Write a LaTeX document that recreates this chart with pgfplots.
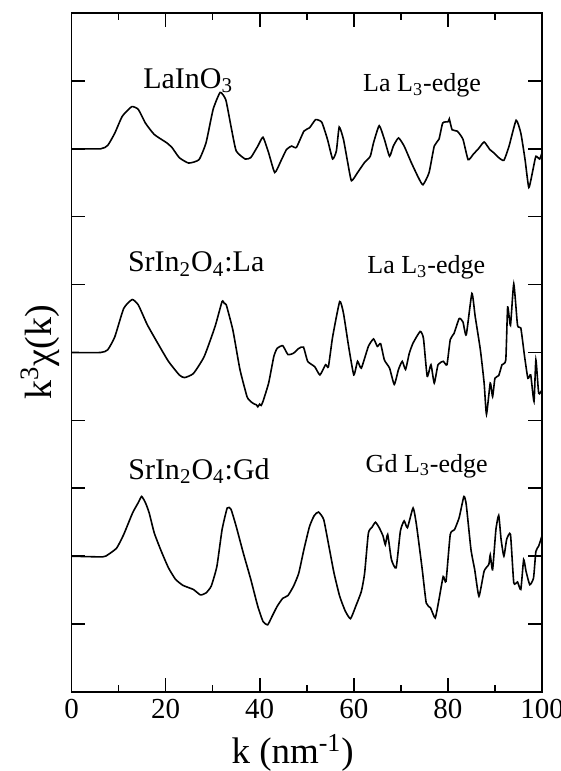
\documentclass[border=0pt]{standalone}
\usepackage{fontspec}
\setmainfont{Liberation Serif}
\usepackage{pgfplots}
\usepackage{pgfplotstable}
\pgfplotsset{compat=1.18}

% offsets from each curve's zero line, in tick units
\pgfplotstableread{
k d
0 0
6.2 0
7.7 0.05
9.2 0.23
10.8 0.48
12.8 0.62
14.2 0.58
15.7 0.38
17.6 0.21
20.2 0.09
21.4 0.015
22.9 -0.13
24.9 -0.21
27.1 -0.16
28.6 0.09
30.1 0.58
31.6 0.83
32.8 0.72
33.9 0.33
35.0 -0.03
36.9 -0.15
38.1 -0.13
39.6 0.04
40.7 0.17
41.9 -0.06
43.2 -0.35
44.5 -0.18
45.7 -0.01
46.8 0.04
47.8 0.02
49.4 0.26
50.6 0.31
51.9 0.43
53.2 0.39
54.4 0.14
55.5 -0.15
56.3 -0.03
56.9 0.32
57.8 0.14
58.7 -0.20
59.5 -0.47
60.8 -0.35
62.3 -0.20
63.5 -0.11
64.2 0.09
65.4 0.34
66.5 0.14
67.6 -0.11
68.4 0.04
69.5 0.16
70.7 0.04
72.2 -0.20
73.7 -0.42
74.7 -0.53
76.0 -0.35
77.1 0.04
78.1 0.14
78.9 0.38
80.1 0.40
80.3 0.44
80.9 0.28
82.0 0.26
83.2 0.14
84.3 -0.16
85.4 -0.08
86.6 0.01
87.7 0.10
88.9 -0.01
89.6 -0.05
90.8 -0.13
91.9 -0.17
93.0 0.04
94.5 0.42
95.5 0.23
96.4 -0.16
97.2 -0.57
98.1 -0.30
98.7 -0.11
99.5 -0.15
100 -0.06
}\lainoTop

\pgfplotstableread{
k d
0 0
6.2 0
7.7 0.04
9.2 0.23
11.1 0.65
12.9 0.78
14.2 0.70
16.1 0.41
18.3 0.14
20.6 -0.13
22.9 -0.33
24.0 -0.37
25.9 -0.31
28.2 -0.06
30.5 0.38
32.0 0.75
32.5 0.72
32.9 0.70
34.3 0.33
35.8 -0.25
37.3 -0.65
37.8 -0.70
38.4 -0.74
38.9 -0.76
39.3 -0.77
39.6 -0.80
40.0 -0.76
40.3 -0.78
40.7 -0.72
41.9 -0.45
43.0 -0.06
43.7 0.06
44.9 0.10
46.0 -0.03
47.2 -0.01
48.3 0.06
49.3 0.08
50.2 -0.13
51.7 -0.21
52.8 -0.33
54.0 -0.18
54.6 -0.21
55.5 0.23
57.0 0.75
57.8 0.58
58.9 0.09
60.0 -0.33
60.8 -0.13
61.6 -0.23
63.1 0.09
64.2 0.20
65.0 0.09
65.7 0.13
66.5 -0.11
67.6 -0.23
68.6 -0.47
69.5 -0.25
70.3 -0.13
71.0 -0.25
71.8 -0.01
72.6 0.14
74.1 0.31
74.8 0.21
75.6 -0.35
76.4 -0.18
77.1 -0.45
77.9 -0.18
79.0 -0.13
79.8 -0.18
80.5 0.19
81.3 0.28
82.4 0.50
83.2 0.45
83.9 0.26
85.1 0.87
85.8 0.53
86.9 0.04
87.7 -0.45
88.2 -0.91
89.0 -0.45
89.5 -0.65
90.0 -0.38
90.8 -0.34
91.5 -0.18
92.3 -0.11
92.7 0.67
93.3 0.40
94.0 1.01
94.8 0.40
95.5 0.36
96.3 -0.06
97.0 -0.38
97.6 -0.33
98.3 -0.72
98.7 -0.11
99.3 -0.60
100 -0.55
}\srinLa

\pgfplotstableread{
k d
0 0
6.6 -0.01
7.7 0.02
9.6 0.12
11.1 0.32
13.0 0.64
14.2 0.79
14.9 0.88
15.7 0.79
16.5 0.64
17.6 0.34
19.1 0.07
20.6 -0.17
22.1 -0.34
23.7 -0.43
25.9 -0.49
27.4 -0.57
28.6 -0.54
29.7 -0.44
30.9 -0.15
32.0 0.39
33.1 0.71
33.9 0.69
35.0 0.44
36.5 0.05
38.1 -0.34
39.6 -0.74
40.7 -0.96
41.7 -1.01
42.6 -0.89
43.7 -0.74
44.9 -0.62
46.0 -0.58
47.2 -0.44
48.3 -0.25
49.4 0.10
50.6 0.44
51.6 0.60
52.5 0.65
53.6 0.54
54.7 0.15
55.8 -0.25
57.0 -0.59
58.2 -0.81
59.3 -0.92
60.4 -0.74
61.6 -0.52
62.3 -0.25
63.1 0.34
63.9 0.43
64.6 0.50
65.4 0.42
66.2 0.30
66.7 0.17
67.2 0.32
68.0 -0.05
69.0 -0.17
69.9 0.37
70.7 0.52
71.4 0.42
72.6 0.71
73.3 0.47
74.5 -0.17
75.4 -0.69
76.3 -0.76
77.3 -0.91
78.1 -0.64
79.0 -0.30
79.6 -0.37
80.5 0.32
81.4 0.39
82.4 0.57
83.4 0.88
83.9 0.76
84.9 0.10
85.7 -0.20
86.6 -0.59
87.7 -0.22
88.7 -0.12
89.0 0.02
89.5 -0.20
90.2 0.39
90.8 0.60
91.3 0.25
91.9 0.00
92.5 0.25
93.3 0.32
94.0 -0.39
94.8 -0.38
95.5 -0.49
96.1 -0.05
96.6 -0.22
97.4 -0.42
98.2 -0.32
98.7 0.07
99.3 0.15
100 0.30
}\srinGd

\begin{document}
\begin{tikzpicture}
\begin{axis}[
    scale only axis, width=235.25pt, height=339.5pt,
    xmin=0, xmax=100, ymin=0, ymax=10,
    xtick={0,20,...,100}, minor xtick={10,30,...,90},
    ytick={0,1,...,10}, yticklabels={},
    tick align=inside, tick pos=both,
    major tick length=7pt, minor tick length=3.3pt,
    every tick/.style={black, line width=0.8pt},
    axis line style={line width=0.9pt},
    /pgf/number format/assume math mode=true,
    xticklabel style={font=\fontsize{14.5}{16}\selectfont},
    xlabel={k (nm\textsuperscript{-1})},
    ylabel={k\textsuperscript{3}χ(k)},
    every axis x label/.style={at={(axis description cs:0.47,-0.106)}, anchor=base,
      font=\fontsize{18.5}{20}\selectfont},
    every axis y label/.style={at={(axis description cs:-0.067,0.5)}, rotate=90, anchor=center,
      font=\fontsize{19}{21}\selectfont},
  ]
  \addplot[black, line width=0.8pt, smooth, tension=0.3] table[x=k, y expr=\thisrow{d}+8] {\lainoTop};
  \addplot[black, line width=0.8pt, smooth, tension=0.3] table[x=k, y expr=\thisrow{d}+5] {\srinLa};
  \addplot[black, line width=0.8pt, smooth, tension=0.3] table[x=k, y expr=\thisrow{d}+2] {\srinGd};

  \node[anchor=base, font=\fontsize{15}{17}\selectfont] at (axis cs:24.8,8.89) {LaInO\textsubscript{3}};
  \node[anchor=base, font=\fontsize{13}{15}\selectfont] at (axis cs:74.5,8.84) {La L\textsubscript{3}-edge};
  \node[anchor=base, font=\fontsize{15}{17}\selectfont] at (axis cs:26.5,6.19) {SrIn\textsubscript{2}O\textsubscript{4}:La};
  \node[anchor=base, font=\fontsize{13}{15}\selectfont] at (axis cs:75.4,6.16) {La L\textsubscript{3}-edge};
  \node[anchor=base, font=\fontsize{15}{17}\selectfont] at (axis cs:27.1,3.13) {SrIn\textsubscript{2}O\textsubscript{4}:Gd};
  \node[anchor=base, font=\fontsize{13}{15}\selectfont] at (axis cs:75.5,3.24) {Gd L\textsubscript{3}-edge};
\end{axis}
\pgfresetboundingbox
\path ([xshift=-35.75pt,yshift=-39.5pt]current axis.south west)
  rectangle ([xshift=9.5pt,yshift=6.5pt]current axis.north east);
\end{tikzpicture}
\end{document}
